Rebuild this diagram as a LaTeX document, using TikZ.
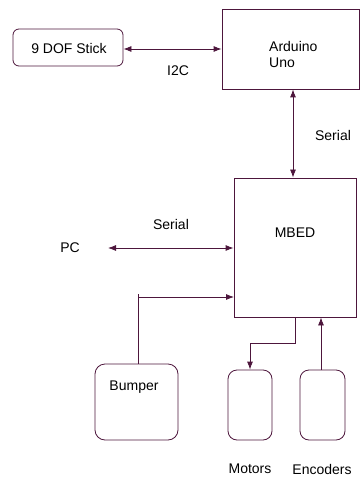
\documentclass[tikz,border=0pt]{standalone}
\usepackage{fontspec}
\setmainfont{Liberation Sans}
\usepackage{tikz}
\usetikzlibrary{arrows.meta, positioning, calc}
\definecolor{linemauve}{RGB}{77,22,60}
\tikzset{every node/.append style={align=center}}
\tikzset{
  blk/.style={rectangle, draw=linemauve, line width=0.8pt, inner sep=0pt},
  rblk/.style={rectangle, draw=linemauve, line width=0.8pt, inner sep=0pt, rounded corners=6pt},
  lbl/.style={font=\fontsize{14}{16.5}\selectfont, text=black, inner sep=0pt},
  arrow/.style={-{Latex[length=8pt,width=6pt]}, line width=0.8pt, linemauve},
  darrow/.style={{Latex[length=8pt,width=6pt]}-{Latex[length=8pt,width=6pt]}, line width=0.8pt, linemauve},
  wire/.style={line width=0.8pt, linemauve}
}

\begin{document}
\begin{tikzpicture}[x=1pt, y=-1pt]
  \useasboundingbox (0,0) rectangle (360,478);
  % boxes
  \node[rblk, minimum width=110pt, minimum height=37pt] (stick) at (68,47.5) {};
  \node[lbl] (sticktxt) at (69,48) {9 DOF Stick};
  \node[blk, minimum width=137pt, minimum height=80pt] (arduino) at (290.5,49) {};
  \node[lbl, align=left, anchor=north west] (arduinotxt) at (269,41) {Arduino\\Uno};
  \node[blk, minimum width=122pt, minimum height=139pt] (mbed) at (295,247.5) {};
  \node[lbl] (mbedtxt) at (295,233) {MBED};
  \node[lbl] (pc) at (70,248) {PC};
  \coordinate (pcend) at (108,248);
  \node[rblk, rounded corners=10pt, minimum width=83pt, minimum height=76pt] (bumper) at (136.5,402) {};
  \node[lbl] (bumpertxt) at (134,387) {Bumper};
  \node[rblk, rounded corners=9pt, minimum width=44pt, minimum height=70pt] (motors) at (250,405) {};
  \node[rblk, rounded corners=9pt, minimum width=45pt, minimum height=70pt] (encoders) at (322.5,405) {};
  \node[lbl] (motorstxt) at (250,469) {Motors};
  \node[lbl] (encoderstxt) at (322,469) {Encoders};
  % links
  \draw[darrow] (stick.east |- 0,49) -- (arduino.west |- 0,49);
  \node[lbl] (i2c) at (178,71) {I2C};
  \draw[darrow] (mbed.north -| 293,0) -- (arduino.south -| 293,0);
  \node[lbl] (serialtop) at (333,135) {Serial};
  \draw[darrow] (pcend) -- (pcend -| mbed.west);
  \node[lbl] (serialpc) at (171,224) {Serial};
  \coordinate (bumpin) at (234,297);
  \draw[wire] (bumper.north -| 138,0) -- (138,294);
  \draw[arrow] (bumpin -| 138,0) -- (bumpin);
  \draw[arrow] (mbed.south) -- ++(0,26) -| (motors.north);
  \draw[arrow] (encoders.north -| 321,0) -- (mbed.south -| 321,0);
\end{tikzpicture}
\end{document}
